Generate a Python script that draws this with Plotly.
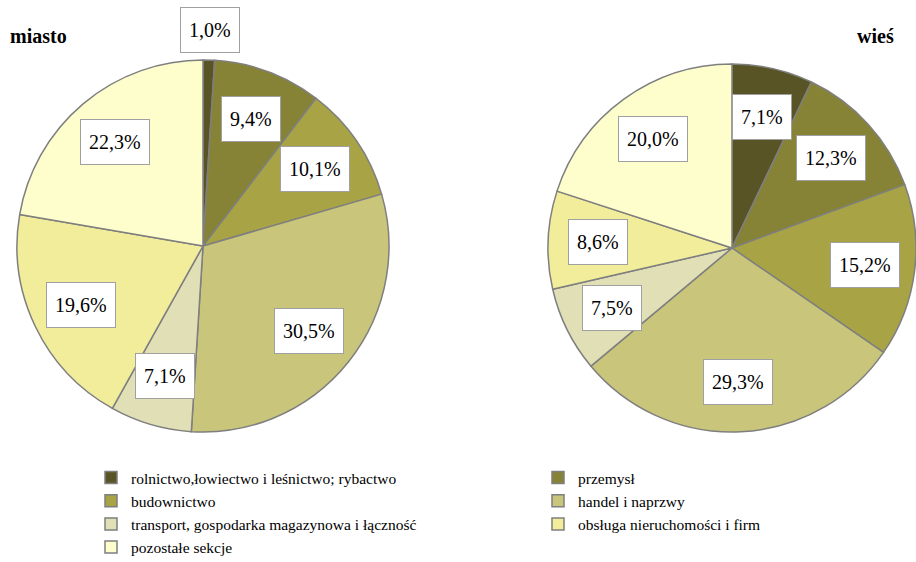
import math
import plotly.graph_objects as go

W, H = 916, 562
FONT = "Liberation Serif"

categories = [
    "rolnictwo,łowiectwo i leśnictwo; rybactwo",
    "przemysł",
    "budownictwo",
    "handel i naprzwy",
    "transport, gospodarka magazynowa i łączność",
    "obsługa nieruchomości i firm",
    "pozostałe sekcje",
]
miasto = [1.0, 9.4, 10.1, 30.5, 7.1, 19.6, 22.3]
wies = [7.1, 12.3, 15.2, 29.3, 7.5, 8.6, 20.0]
colors = ["#585425", "#878336", "#a8a446", "#c9c67b", "#e0dfb5", "#f1ed9b", "#fefecd"]

# pie geometry in pixels (center x, center y, radius)
pies = [
    ("miasto", miasto, 203, 246, 186),
    ("wieś", wies, 732, 248, 184),
]

def px2paper(x, y):
    return x / W, 1 - y / H

fig = go.Figure()
annotations = []
for i, (name, vals, cx, cy, r) in enumerate(pies):
    x0, y1 = px2paper(cx - r, cy + r)
    x1, y0 = px2paper(cx + r, cy - r)
    fig.add_trace(go.Pie(
        labels=categories, values=vals, name=name,
        sort=False, direction="clockwise", rotation=0,
        marker=dict(colors=colors, line=dict(color="#7f7f7f", width=1.5)),
        textinfo="none", hoverinfo="label+percent",
        domain=dict(x=[x0, x1], y=[y1, y0]),
        showlegend=(i == 0),
    ))
    total = sum(vals)
    cum = 0.0
    for v in vals:
        mid = (cum + v / 2) / total
        cum += v
        th = 2 * math.pi * mid
        k = 1.16 if v / total < 0.03 else 0.73
        ax, ay = px2paper(cx + k * r * math.sin(th), cy - k * r * math.cos(th))
        annotations.append(dict(
            x=ax, y=ay, xref="paper", yref="paper",
            text=f"{v:.1f}%".replace(".", ","), showarrow=False,
            xanchor="center", yanchor="middle",
            font=dict(family=FONT, size=20, color="black"),
            bgcolor="white", bordercolor="#a0a0a0", borderwidth=1, borderpad=8,
            height=28,
        ))

tx, ty = px2paper(8, 36)
annotations.append(dict(x=tx, y=ty, xref="paper", yref="paper",
                        text="<b>miasto</b>", showarrow=False, xanchor="left", yanchor="middle",
                        font=dict(family=FONT, size=20, color="black")))
tx, ty = px2paper(896, 36)
annotations.append(dict(x=tx, y=ty, xref="paper", yref="paper",
                        text="<b>wieś</b>", showarrow=False, xanchor="right", yanchor="middle",
                        font=dict(family=FONT, size=20, color="black")))

lx, ly = px2paper(91, 461)
fig.update_layout(
    width=W, height=H,
    margin=dict(l=0, r=0, t=0, b=0, autoexpand=False),
    paper_bgcolor="white", plot_bgcolor="white",
    annotations=annotations,
    legend=dict(
        orientation="h", x=lx, y=ly, xanchor="left", yanchor="top",
        entrywidth=402, entrywidthmode="pixels",
        font=dict(family=FONT, size=15.5, color="black"),
        traceorder="normal", itemwidth=30,
    ),
)

fig.write_html(
    "out.html",
    config={"displayModeBar": False},
    post_script="document.body.style.margin='0';document.body.style.overflow='hidden';",
)
